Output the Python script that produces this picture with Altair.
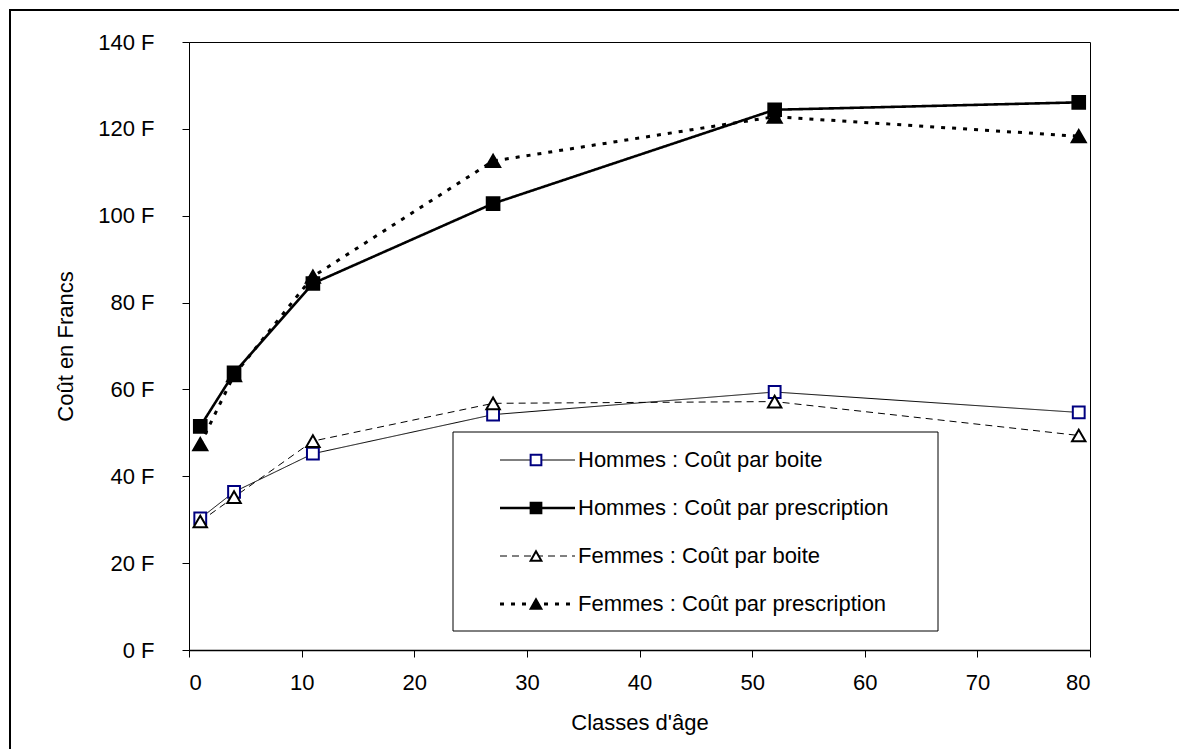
import altair as alt
import pandas as pd

# ---- data ----
ages = [1, 4, 11, 27, 52, 79]
hommes_boite = [30.3, 36.4, 45.2, 54.2, 59.4, 54.7]
hommes_prescription = [51.5, 63.8, 84.4, 102.8, 124.4, 126.1]
femmes_boite = [29.6, 35.2, 48.1, 56.8, 57.2, 49.4]
femmes_prescription = [47.4, 63.3, 86.0, 112.6, 122.8, 118.3]

series_labels = [
    "Hommes : Coût par boite",
    "Hommes : Coût par prescription",
    "Femmes : Coût par boite",
    "Femmes : Coût par prescription",
]
x_ticks = [0, 10, 20, 30, 40, 50, 60, 70, 80]
y_ticks = [0, 20, 40, 60, 80, 100, 120, 140]

FONT = "Liberation Sans"

# draw order for markers: F presc, H presc, H boite, F boite
values_by_series = {
    series_labels[0]: hommes_boite,
    series_labels[1]: hommes_prescription,
    series_labels[2]: femmes_boite,
    series_labels[3]: femmes_prescription,
}
draw_order = [series_labels[3], series_labels[1], series_labels[0], series_labels[2]]
rows = []
for s in draw_order:
    for a, v in zip(ages, values_by_series[s]):
        rows.append({"series": s, "age": a, "cost": v})
df = pd.DataFrame(rows)

# styles per series
dash_scale = alt.Scale(domain=series_labels, range=[[1, 0], [1, 0], [7, 5], [4, 7]])
width_scale = alt.Scale(type="ordinal", domain=series_labels, range=[1, 2.6, 1, 3])
shape_scale = alt.Scale(domain=series_labels, range=["square", "square", "triangle-up", "triangle-up"])
fill_scale = alt.Scale(domain=series_labels, range=["white", "black", "white", "black"])
stroke_scale = alt.Scale(domain=series_labels, range=["#000080", "black", "black", "black"])
size_scale = alt.Scale(type="ordinal", domain=series_labels, range=[140, 160, 180, 200])

x_enc = alt.X(
    "age:Q",
    scale=alt.Scale(domain=[0, 80], nice=False),
    axis=alt.Axis(
        values=x_ticks, title="Classes d'âge", tickSize=7, labelPadding=15,
        titleBaseline="alphabetic", titleY=79, grid=False, domainWidth=1.5,
    ),
)
y_enc = alt.Y(
    "cost:Q",
    scale=alt.Scale(domain=[0, 140], nice=False),
    axis=alt.Axis(
        values=y_ticks, labelExpr="datum.value + ' F'", title="Coût en Francs",
        tickSize=7, labelPadding=28, titleBaseline="alphabetic", titleX=-117, grid=False,
    ),
)

lines = alt.Chart(df).mark_line(color="black", strokeCap="butt").encode(
    x=x_enc,
    y=y_enc,
    detail="series:N",
    strokeDash=alt.StrokeDash("series:N", scale=dash_scale, legend=None),
    strokeWidth=alt.StrokeWidth("series:N", scale=width_scale, legend=None),
)

points = alt.Chart(df).mark_point(filled=True, opacity=1, strokeWidth=2).encode(
    x=alt.X("age:Q"),
    y=alt.Y("cost:Q"),
    shape=alt.Shape("series:N", scale=shape_scale, legend=None),
    fill=alt.Fill("series:N", scale=fill_scale, legend=None),
    stroke=alt.Stroke("series:N", scale=stroke_scale, legend=None),
    size=alt.Size("series:N", scale=size_scale, legend=None),
)

main = alt.layer(lines, points)

one = pd.DataFrame({"k": [0]})
outer_frame = alt.Chart(one).mark_rect(fillOpacity=0, stroke="black", strokeWidth=2).encode(
    x=alt.value(-179), x2=alt.value(1011), y=alt.value(-32), y2=alt.value(728)
)
legend_box = alt.Chart(one).mark_rect(fill="white", stroke="black", strokeWidth=1).encode(
    x=alt.value(264), x2=alt.value(749), y=alt.value(390), y2=alt.value(589)
)

legend_df = pd.DataFrame({"series": series_labels})
leg_y = alt.Y(
    "series:N", sort=series_labels,
    scale=alt.Scale(type="point", domain=series_labels, range=[418, 562], padding=0),
    axis=None,
)
leg_rule = alt.Chart(legend_df).mark_rule(color="black", strokeCap="butt").encode(
    y=leg_y, x=alt.value(311), x2=alt.value(386),
    strokeDash=alt.StrokeDash("series:N", scale=dash_scale, legend=None),
    strokeWidth=alt.StrokeWidth("series:N", scale=width_scale, legend=None),
)
leg_pts = alt.Chart(legend_df).mark_point(filled=True, opacity=1, strokeWidth=2).encode(
    y=leg_y, x=alt.value(347),
    shape=alt.Shape("series:N", scale=shape_scale, legend=None),
    fill=alt.Fill("series:N", scale=fill_scale, legend=None),
    stroke=alt.Stroke("series:N", scale=stroke_scale, legend=None),
    size=alt.value(115),
)
leg_text = alt.Chart(legend_df).mark_text(
    align="left", baseline="middle", font=FONT, fontSize=22, color="black"
).encode(y=leg_y, x=alt.value(389), text="series:N")

legend = alt.layer(leg_rule, leg_pts, leg_text)

chart = (
    alt.layer(outer_frame, main, legend_box, legend)
    .resolve_scale(y="independent")
    .properties(
        width=901,
        height=608,
        autosize=alt.AutoSizeParams(type="none"),
        padding={"left": 189, "top": 42, "right": 89, "bottom": 99},
        background="white",
    )
    .configure_view(stroke="black", strokeWidth=1)
    .configure_axis(
        domainColor="black", tickColor="black", labelColor="black", titleColor="black",
        labelFont=FONT, titleFont=FONT, labelFontSize=22, titleFontSize=22,
        titleFontWeight="normal", domainWidth=1, tickWidth=1,
    )
)

chart.save("out.html", embed_options={"renderer": "svg", "actions": False})
